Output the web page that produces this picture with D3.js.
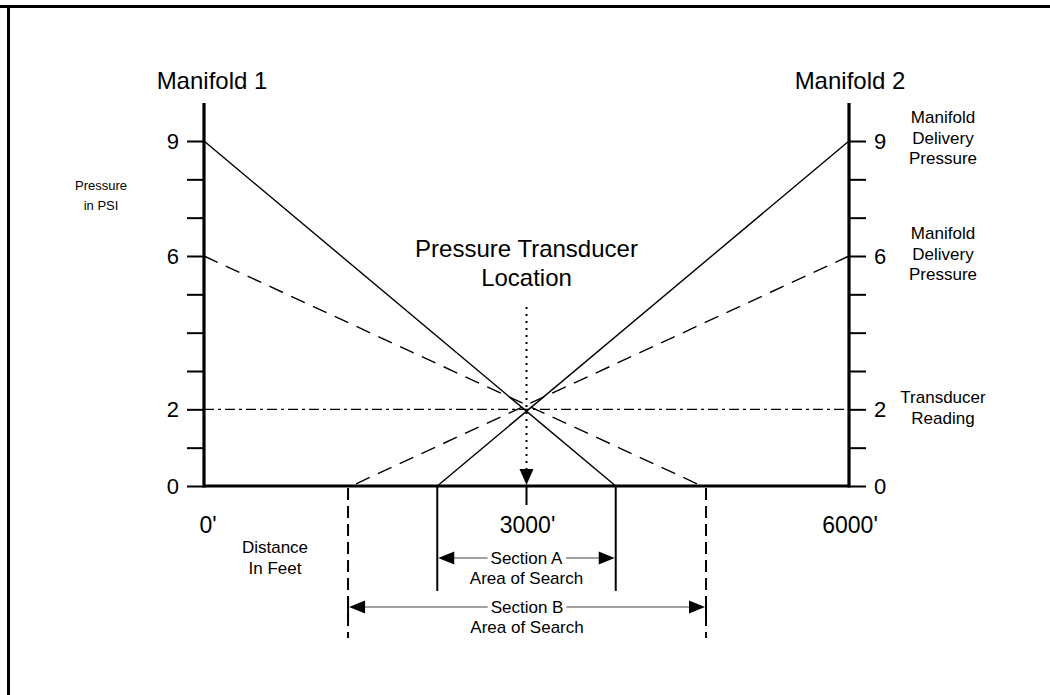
<!DOCTYPE html>
<html>
<head>
<meta charset="utf-8">
<script src="https://cdn.jsdelivr.net/npm/d3@7.9.0/dist/d3.min.js"></script>
<style>
  body { margin: 0; background: #fff; }
  svg { display: block; font-family: "Liberation Sans", Arial, Helvetica, sans-serif; }
</style>
</head>
<body>
<svg id="chart" width="1050" height="695"></svg>
<script>
// pressure scale (psi) and distance (feet)
const psiTicks = [0, 1, 2, 3, 4, 5, 6, 7, 8, 9];
const psiLabels = [0, 2, 6, 9];
const distTicks = [0, 3000, 6000];
const distLabels = ["0'", "3000'", "6000'"];

// pressure lines: [feet, psi]
const solid9From1 = [[0, 9], [3830, 0]];
const solid9From2 = [[6000, 9], [2170, 0]];
const dashed6From1 = [[0, 6], [4630, 0]];
const dashed6From2 = [[6000, 6], [1370, 0]];
const transducerReading = [[0, 2], [6000, 2]];
const transducerFt = 3000;

// search areas (feet)
const sectionA = [2170, 3830];
const sectionB = [1340, 4670];

const svg = d3.select('#chart');

const x = d3.scaleLinear().domain([0, 6000]).range([204, 849]);
const y = d3.scaleLinear().domain([0, 9]).range([486, 141]);

// frame (top and left only)
svg.append('line').attr('x1', 0).attr('x2', 1050).attr('y1', 6.5).attr('y2', 6.5)
  .attr('stroke', '#000').attr('stroke-width', 3);
svg.append('line').attr('x1', 8.5).attr('x2', 8.5).attr('y1', 5).attr('y2', 695)
  .attr('stroke', '#000').attr('stroke-width', 3);

const lineGen = d3.line().x(d => x(d[0])).y(d => y(d[1]));

// horizontal dash-dot at transducer reading
svg.append('path').datum(transducerReading).attr('d', lineGen)
  .attr('fill', 'none').attr('stroke', '#000').attr('stroke-width', 1.3)
  .attr('stroke-dasharray', '10,4,3,4');

// dashed 6 psi lines
[dashed6From1, dashed6From2].forEach(pts => {
  svg.append('path').datum(pts).attr('d', lineGen)
    .attr('fill', 'none').attr('stroke', '#000').attr('stroke-width', 1.4)
    .attr('stroke-dasharray', '15,9');
});

// solid 9 psi lines
[solid9From1, solid9From2].forEach(pts => {
  svg.append('path').datum(pts).attr('d', lineGen)
    .attr('fill', 'none').attr('stroke', '#000').attr('stroke-width', 1.4);
});

// axes
const tickFmt = d => psiLabels.includes(d) ? d : '';
const leftAxis = d3.axisLeft(y).tickValues(psiTicks).tickSize(17).tickPadding(8).tickFormat(tickFmt);
const rightAxis = d3.axisRight(y).tickValues(psiTicks).tickSize(17).tickPadding(8).tickFormat(tickFmt);

function styleAxis(g) {
  g.select('.domain').remove();
  g.selectAll('.tick line').attr('stroke', '#000').attr('stroke-width', 2);
  g.selectAll('.tick text').attr('fill', '#000').style('font-size', '22px')
    .style('font-family', '"Liberation Sans", Arial, sans-serif');
}

svg.append('g').attr('transform', `translate(${x(0)},0)`).call(leftAxis).call(styleAxis);
svg.append('g').attr('transform', `translate(${x(6000)},0)`).call(rightAxis).call(styleAxis);

// axis spines
[0, 6000].forEach(ft => {
  svg.append('line').attr('x1', x(ft)).attr('x2', x(ft)).attr('y1', 103).attr('y2', y(0) + 1.5)
    .attr('stroke', '#000').attr('stroke-width', 3.2);
});
svg.append('line').attr('x1', x(0)).attr('x2', x(6000)).attr('y1', y(0)).attr('y2', y(0))
  .attr('stroke', '#000').attr('stroke-width', 3.2);

// distance labels
svg.selectAll('.dist').data(distTicks).enter().append('text')
  .attr('x', d => x(d) + (d === 0 ? 4 : 1)).attr('y', 533)
  .attr('text-anchor', 'middle').style('font-size', '23px')
  .text((d, i) => distLabels[i]);

// tick below baseline at transducer
svg.append('line').attr('x1', x(transducerFt)).attr('x2', x(transducerFt))
  .attr('y1', y(0)).attr('y2', 505).attr('stroke', '#000').attr('stroke-width', 2);

// dotted transducer drop with arrow
svg.append('line').attr('x1', x(transducerFt)).attr('x2', x(transducerFt))
  .attr('y1', 307).attr('y2', 470).attr('stroke', '#000').attr('stroke-width', 2)
  .attr('stroke-dasharray', '2,5');
svg.append('path')
  .attr('d', `M${x(transducerFt) - 7},469 L${x(transducerFt) + 7},469 L${x(transducerFt)},485 Z`)
  .attr('fill', '#000');

// section A verticals (solid)
sectionA.forEach(ft => {
  svg.append('line').attr('x1', x(ft)).attr('x2', x(ft)).attr('y1', y(0)).attr('y2', 591)
    .attr('stroke', '#000').attr('stroke-width', 2);
});
// section B verticals (dashed)
sectionB.forEach(ft => {
  svg.append('line').attr('x1', x(ft)).attr('x2', x(ft)).attr('y1', y(0) + 2).attr('y2', 638)
    .attr('stroke', '#000').attr('stroke-width', 2).attr('stroke-dasharray', '12,6');
  svg.append('line').attr('x1', x(ft)).attr('x2', x(ft)).attr('y1', 596).attr('y2', 618)
    .attr('stroke', '#000').attr('stroke-width', 2);
});

// dimension arrows
function dimArrow(range, yPos, label) {
  const x0 = x(range[0]), x1 = x(range[1]);
  const g = svg.append('g');
  g.append('line').attr('x1', x0 + 4).attr('x2', x1 - 4).attr('y1', yPos).attr('y2', yPos)
    .attr('stroke', '#444').attr('stroke-width', 1);
  g.append('path').attr('d', `M${x0 + 1},${yPos} L${x0 + 17},${yPos - 6.5} L${x0 + 17},${yPos + 6.5} Z`).attr('fill', '#000');
  g.append('path').attr('d', `M${x1 - 1},${yPos} L${x1 - 17},${yPos - 6.5} L${x1 - 17},${yPos + 6.5} Z`).attr('fill', '#000');
  const t = g.append('text').attr('x', (x0 + x1) / 2).attr('y', yPos + 6)
    .attr('text-anchor', 'middle').style('font-size', '17px').text(label);
  const bb = t.node().getBBox();
  g.insert('rect', 'text').attr('x', bb.x - 3).attr('y', yPos - 2).attr('width', bb.width + 6).attr('height', 4)
    .attr('fill', '#fff');
}
dimArrow(sectionA, 558, 'Section A');
dimArrow(sectionB, 607, 'Section B');

function multiline(xc, yFirst, lines, size, lh, anchor) {
  const t = svg.append('text').attr('text-anchor', anchor || 'middle').style('font-size', size + 'px');
  lines.forEach((s, i) => t.append('tspan').attr('x', xc).attr('y', yFirst + i * lh).text(s));
}

multiline(x((sectionA[0] + sectionA[1]) / 2), 584, ['Area of Search'], 17, 20);
multiline(x((sectionB[0] + sectionB[1]) / 2), 633, ['Area of Search'], 17, 20);

// titles and annotations
multiline(x(0) + 8, 89, ['Manifold 1'], 24, 28);
multiline(x(6000) + 1, 89, ['Manifold 2'], 24, 28);
multiline(x(transducerFt), 257, ['Pressure Transducer', 'Location'], 24, 29);
multiline(101, 190, ['Pressure', 'in PSI'], 13, 20);
multiline(943, 123, ['Manifold', 'Delivery', 'Pressure'], 17, 20.5);
multiline(943, 239, ['Manifold', 'Delivery', 'Pressure'], 17, 20.5);
multiline(943, 403, ['Transducer', 'Reading'], 17, 20.5);
multiline(275, 553, ['Distance', 'In Feet'], 17, 20.5);
</script>
</body>
</html>
